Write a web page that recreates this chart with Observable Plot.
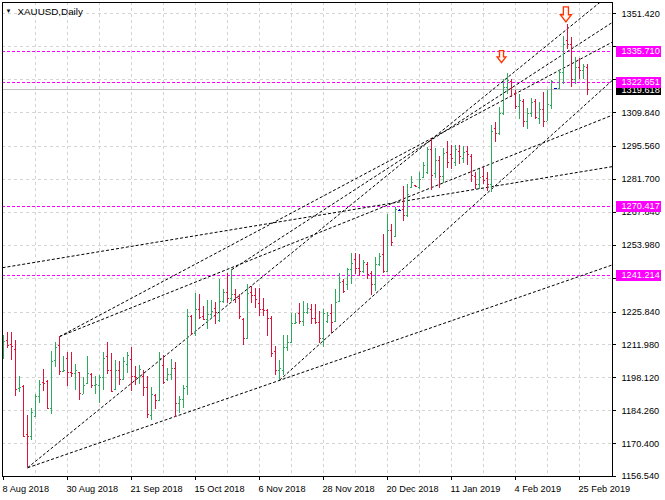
<!DOCTYPE html>
<html><head><meta charset="utf-8">
<script src="https://cdn.jsdelivr.net/npm/d3@7"></script>
<script src="https://cdn.jsdelivr.net/npm/@observablehq/plot@0.6"></script>
<style>body{margin:0;background:#fff}</style>
</head><body><div id="chart"></div>
<script>
// XAUUSD daily bars (bar index 1 = 8 Aug 2018)
const opens  = [1207.0,1214.0,1212.3,1210.1,1193.6,1194.3,1174.3,1173.2,1181.9,1190.1,1196.0,1196.4,1185.1,1205.3,1211.9,1200.6,1206.3,1200.2,1199.9,1200.2,1191.2,1195.7,1199.7,1195.0,1194.7,1198.2,1207.0,1201.3,1193.2,1201.3,1197.4,1203.9,1205.9,1198.8,1198.2,1198.5,1194.0,1182.3,1190.8,1188.4,1203.5,1197.4,1199.7,1202.1,1187.3,1188.9,1194.3,1223.9,1216.9,1227.0,1223.9,1222.8,1225.0,1227.4,1222.2,1230.2,1234.0,1231.6,1233.1,1231.6,1222.8,1214.7,1234.0,1232.6,1229.5,1227.0,1226.6,1223.2,1209.1,1201.3,1201.3,1210.9,1213.0,1221.1,1225.3,1221.8,1225.6,1226.7,1223.2,1221.4,1214.7,1222.0,1225.3,1221.8,1230.2,1238.7,1237.3,1243.9,1248.1,1244.3,1242.9,1245.7,1241.9,1237.3,1245.7,1249.9,1242.9,1260.2,1257.7,1268.8,1269.0,1266.4,1278.1,1279.2,1278.5,1282.4,1284.5,1294.1,1284.0,1289.5,1283.0,1293.0,1292.0,1289.0,1293.5,1290.5,1293.6,1291.5,1283.1,1279.5,1282.8,1282.0,1279.5,1303.1,1301.0,1309.3,1320.4,1322.8,1318.0,1312.6,1314.5,1306.0,1309.3,1314.4,1307.5,1311.3,1306.3,1313.0,1320.0,1320.0,1326.9,1340.2,1338.7,1323.8,1328.8,1327.5,1328.8];
const highs  = [1216.1,1217.3,1217.3,1214.0,1198.8,1195.0,1182.3,1185.1,1191.2,1197.1,1201.8,1196.8,1209.1,1212.9,1215.5,1207.3,1208.7,1208.9,1203.9,1200.5,1198.2,1207.3,1199.9,1198.8,1199.1,1208.7,1212.9,1208.4,1205.3,1204.9,1206.6,1208.8,1210.9,1202.8,1203.5,1201.3,1198.5,1194.0,1191.2,1208.7,1207.7,1202.1,1205.9,1204.4,1190.1,1195.0,1226.7,1224.2,1233.5,1233.1,1228.1,1230.7,1230.7,1229.8,1239.7,1235.2,1242.2,1243.6,1235.2,1233.1,1223.2,1237.3,1236.6,1235.9,1235.9,1231.6,1227.0,1223.9,1211.5,1205.6,1216.1,1216.1,1225.3,1225.3,1229.5,1230.2,1229.5,1228.8,1228.8,1226.0,1226.7,1225.6,1229.2,1235.4,1242.2,1239.4,1244.3,1250.4,1250.7,1250.0,1247.6,1246.7,1242.9,1248.6,1250.7,1258.4,1266.9,1262.6,1269.7,1268.9,1278.8,1279.5,1282.8,1279.3,1284.5,1289.0,1295.0,1298.6,1294.8,1291.3,1294.8,1297.6,1296.2,1296.2,1296.2,1295.5,1295.5,1292.2,1284.5,1285.9,1286.6,1284.5,1304.6,1305.6,1311.9,1323.6,1326.5,1323.9,1319.0,1317.6,1315.5,1311.5,1315.8,1315.2,1314.1,1318.3,1319.0,1323.2,1320.1,1327.5,1342.0,1346.8,1341.5,1333.1,1332.6,1330.3,1330.3];
const lows   = [1205.9,1210.5,1205.3,1190.1,1191.8,1173.2,1160.2,1171.5,1181.2,1187.5,1192.2,1184.7,1182.7,1202.5,1199.2,1200.2,1194.6,1198.2,1192.9,1188.4,1190.9,1195.4,1193.7,1191.2,1187.5,1192.6,1199.7,1191.8,1192.9,1195.0,1197.1,1199.9,1192.2,1195.0,1195.4,1190.1,1180.9,1180.2,1184.7,1188.0,1195.4,1196.4,1197.1,1181.6,1183.0,1185.1,1190.8,1216.1,1215.7,1222.5,1222.2,1218.3,1222.8,1220.4,1221.4,1229.5,1229.3,1230.2,1229.5,1222.5,1211.9,1214.3,1229.5,1227.4,1223.9,1223.9,1215.4,1206.7,1199.2,1197.1,1199.2,1209.1,1212.6,1220.4,1220.4,1219.7,1224.6,1220.4,1220.6,1212.6,1210.9,1220.8,1216.6,1221.4,1229.8,1233.5,1234.9,1237.3,1241.5,1240.8,1242.2,1239.4,1232.8,1234.5,1245.0,1242.2,1242.5,1253.5,1257.4,1268.7,1264.0,1265.8,1277.7,1278.8,1277.4,1282.0,1283.8,1277.0,1282.2,1278.0,1280.1,1286.4,1285.7,1287.1,1287.8,1288.5,1287.6,1280.2,1277.3,1277.4,1279.5,1276.7,1276.3,1297.2,1300.3,1308.5,1317.6,1316.4,1311.2,1307.0,1303.5,1302.8,1307.7,1307.0,1304.9,1303.5,1306.0,1311.3,1319.9,1319.7,1321.5,1336.6,1320.4,1321.8,1323.9,1323.6,1316.9];
const closes = [1213.3,1211.9,1211.2,1193.2,1194.0,1173.5,1173.5,1183.7,1190.1,1195.3,1195.7,1185.1,1205.2,1210.9,1200.9,1201.0,1200.2,1199.9,1201.3,1191.5,1195.0,1199.9,1195.0,1195.3,1198.2,1206.3,1201.3,1192.2,1201.0,1197.4,1204.9,1207.7,1198.8,1198.2,1201.6,1194.0,1182.7,1191.2,1188.7,1206.3,1196.0,1199.7,1202.1,1187.3,1188.9,1193.6,1223.9,1216.6,1227.0,1223.6,1222.8,1225.0,1226.0,1225.6,1230.2,1234.0,1231.6,1233.1,1232.1,1223.9,1214.7,1233.5,1232.6,1231.2,1227.0,1226.6,1223.2,1208.4,1201.3,1202.0,1210.9,1213.0,1221.1,1221.4,1221.8,1225.6,1227.4,1223.2,1221.4,1214.7,1225.3,1224.5,1221.4,1229.8,1238.2,1234.5,1243.9,1246.4,1244.3,1242.9,1246.7,1241.5,1237.3,1245.7,1249.2,1242.9,1260.2,1255.2,1269.0,1268.8,1266.4,1275.3,1280.3,1278.9,1281.7,1287.6,1294.1,1283.4,1289.5,1283.0,1292.5,1289.0,1290.5,1294.5,1291.5,1293.0,1292.2,1283.4,1279.5,1282.4,1281.3,1279.5,1302.1,1301.0,1309.3,1320.4,1323.2,1320.4,1312.6,1314.8,1306.0,1309.3,1314.0,1307.8,1311.3,1306.3,1313.3,1322.8,1320.0,1326.9,1338.5,1338.7,1323.6,1328.8,1327.5,1329.3,1319.6];

// price axis: grid/tick values and the labels that remain visible
const yTicks = [1351.420,1337.560,1323.700,1309.840,1295.560,1281.700,1267.840,1253.980,1240.120,1225.840,1211.980,1198.120,1184.260,1170.400,1156.540];
const yLabels = [1351.420,1309.840,1295.560,1281.700,1267.840,1253.980,1225.840,1211.980,1198.120,1184.260,1170.400,1156.540];
// time axis: bar index and label
const xTickBars = [1,17,33,49,65,81,97,113,129,145];
const xTickLabels = ["8 Aug 2018","30 Aug 2018","21 Sep 2018","15 Oct 2018","6 Nov 2018","28 Nov 2018","20 Dec 2018","11 Jan 2019","4 Feb 2019","25 Feb 2019"];
const gridBars = [9,17,25,33,41,49,57,65,73,81,89,97,105,113,121,129,137,145];

// horizontal levels
const levels = [1335.710,1322.651,1270.417,1241.214];
const bidPrice = 1319.618;

// trend lines: start (bar, price) -> end (bar, price)
const trendX1 = [7, 7, 15, 15, 58, 70, 0.75];
const trendY1 = [1160.2, 1160.2, 1215.5, 1215.5, 1243.6, 1197.1, 1244.5];
const trendX2 = [153.25, 153.25, 153.25, 153.25, 153.25, 153.25, 153.25];
const trendY2 = [1245.7, 1360.6, 1339.6, 1308.8, 1347.9, 1323.5, 1287.1];

// down-arrow markers
const arrowBars = [125.5, 141.6];
const arrowPrices = [1333.4, 1351.2];
const arrowSizes = [6, 7.5];

const bars = opens.map((o, k) => ({i: k + 1, o, h: highs[k], l: lows[k], c: closes[k]}));
const barColor = d => d.c > d.o ? "#2eaa5c" : d.c < d.o ? "#dc143c" : "#0000cd";
const trends = trendX1.map((x1, k) => ({x1, y1: trendY1[k], x2: trendX2[k], y2: trendY2[k]}));

const arrowSymbol = {
  draw(ctx, size) {
    const r = Math.sqrt(size / Math.PI);
    const h = 2 * r, w = 0.74 * h;
    ctx.moveTo(-0.23 * w, -h / 2);
    ctx.lineTo(0.23 * w, -h / 2);
    ctx.lineTo(0.23 * w, 0.02 * h);
    ctx.lineTo(0.5 * w, 0.02 * h);
    ctx.lineTo(0, h / 2);
    ctx.lineTo(-0.5 * w, 0.02 * h);
    ctx.lineTo(-0.23 * w, 0.02 * h);
    ctx.closePath();
  }
};

const font = "'Liberation Sans', Arial, sans-serif";
const fs = 9.2;
const crisp = {shapeRendering: "crispEdges"};

const chart = Plot.plot({
  width: 665,
  height: 500,
  marginLeft: 2,
  marginRight: 53,
  marginTop: 2,
  marginBottom: 24,
  style: {fontFamily: font, background: "#fff", overflow: "visible"},
  x: {domain: [0.75, 153.25], axis: null},
  y: {domain: [1156.54, 1356.24], axis: null},
  marks: [
    // grid
    Plot.ruleX(gridBars, {x: d => d, stroke: "#d4d4d4", strokeDasharray: "3,3", ...crisp}),
    Plot.ruleY(yTicks, {y: d => d, stroke: "#d4d4d4", strokeDasharray: "3,3", ...crisp}),
    // bid line
    Plot.ruleY([bidPrice], {y: d => d, stroke: "#c0c0c0", ...crisp}),
    // horizontal levels
    Plot.ruleY(levels, {y: d => d, stroke: "#ff00ff", strokeDasharray: "3,2", ...crisp}),
    // trend lines
    Plot.link(trends, {x1: "x1", y1: "y1", x2: "x2", y2: "y2", stroke: "#000", strokeWidth: 1, strokeDasharray: "3,2", clip: true}),
    // OHLC bars
    Plot.ruleX(bars, {x: "i", y1: "l", y2: "h", stroke: barColor, ...crisp}),
    Plot.ruleY(bars, {x1: d => d.i - 0.375, x2: d => d.i, y: "o", stroke: barColor, ...crisp}),
    Plot.ruleY(bars, {x1: d => d.i, x2: d => d.i + 0.375, y: "c", stroke: barColor, ...crisp}),
    // arrows
    ...arrowBars.map((b, k) => Plot.dot([k], {x: () => b, y: () => arrowPrices[k], r: arrowSizes[k], symbol: arrowSymbol, fill: "#fff6f0", stroke: "#ff3300", strokeWidth: 1.3})),
    // frame
    Plot.frame({stroke: "#000", ...crisp}),
    // axis ticks
    Plot.ruleX(xTickBars, {x: d => d, insetTop: 470, dy: 4, stroke: "#000", ...crisp}),
    Plot.ruleY(yTicks, {y: d => d, insetLeft: 606, dx: 4, stroke: "#000", ...crisp}),
    // axis labels
    Plot.text(yLabels, {y: d => d, text: d => d.toFixed(3), frameAnchor: "right", dx: 9, textAnchor: "start", lineAnchor: "middle", fontSize: fs, fill: "#000"}),
    Plot.text(xTickBars, {x: d => d, text: (d, i) => xTickLabels[i], frameAnchor: "bottom", dy: 13, dx: -1, textAnchor: "start", lineAnchor: "middle", fontSize: fs, fill: "#000"}),
    // price boxes
    Plot.ruleY([bidPrice], {y: d => d, insetLeft: 565, dx: 49, strokeWidth: 11, stroke: "#000", ...crisp}),
    Plot.text([bidPrice], {y: d => d, text: d => d.toFixed(3), frameAnchor: "right", dx: 9, dy: 1, textAnchor: "start", lineAnchor: "middle", fontSize: fs, fill: "#fff"}),
    Plot.ruleY(levels, {y: d => d, insetLeft: 565, dx: 49, strokeWidth: 11, stroke: "#ff00ff", ...crisp}),
    Plot.text(levels, {y: d => d, text: d => d.toFixed(3), frameAnchor: "right", dx: 9, textAnchor: "start", lineAnchor: "middle", fontSize: fs, fill: "#fff"}),
    // title
    Plot.text(["▼"], {frameAnchor: "top-left", dx: 6, dy: 9, textAnchor: "middle", lineAnchor: "middle", fontSize: 6, fill: "#000"}),
    Plot.text(["XAUUSD,Daily"], {frameAnchor: "top-left", dx: 15, dy: 9, textAnchor: "start", lineAnchor: "middle", fontSize: 9.8, fill: "#000"})
  ]
});
document.getElementById("chart").appendChild(chart);
</script>
</body></html>
